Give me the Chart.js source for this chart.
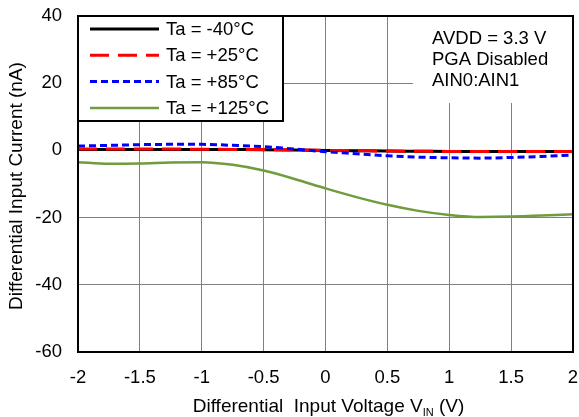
<!DOCTYPE html>
<html>
<head>
<meta charset="utf-8">
<script src="https://cdn.jsdelivr.net/npm/chart.js@4/dist/chart.umd.min.js"></script>
<style>
  html, body { margin: 0; padding: 0; background: #fff; }
  #wrap { position: relative; width: 579px; height: 417px; }
</style>
</head>
<body>
<div id="wrap"><canvas id="chart" width="579" height="417"></canvas></div>
<script>
// values
const voltages = [-2, -1.75, -1.5, -1.25, -1, -0.75, -0.5, -0.25, 0, 0.25, 0.5, 0.75, 1, 1.25, 1.5, 1.75, 2];
const tempLabels = ['Ta = -40°C', 'Ta = +25°C', 'Ta = +85°C', 'Ta = +125°C'];
const currentM40 = [0.3, 0.3, 0.3, 0.3, 0.3, 0.25, 0.2, 0.1, 0, -0.1, -0.2, -0.25, -0.3, -0.3, -0.3, -0.3, -0.3];
const current25 = [0.4, 0.4, 0.4, 0.4, 0.35, 0.3, 0.3, 0.15, 0, -0.1, -0.2, -0.25, -0.3, -0.3, -0.3, -0.3, -0.3];
const current85 = [1.3, 1.5, 1.7, 1.8, 1.8, 1.5, 1.1, 0.4, -0.4, -1.0, -1.6, -2.0, -2.2, -2.3, -2.1, -1.8, -1.4];
const current125 = [-3.5, -4.0, -3.9, -3.6, -3.5, -4.3, -6.0, -8.5, -11.3, -13.9, -16.2, -18.0, -19.2, -19.8, -19.7, -19.4, -19.0];
const notes = ['AVDD = 3.3 V', 'PGA Disabled', 'AIN0:AIN1'];

const FONT = '"Liberation Sans", Arial, sans-serif';

const styles = [
    { color: '#000000', dash: [] },
    { color: '#ff0000', dash: [19, 9] },
    { color: '#0000ff', dash: [7, 4] },
    { color: '#6f9c3d', dash: [] }
];
const series = [currentM40, current25, current85, current125];

const datasets = series.map((values, i) => ({
    label: tempLabels[i],
    data: voltages.map((v, j) => ({ x: v, y: values[j] })),
    borderColor: styles[i].color,
    borderDash: styles[i].dash,
    borderWidth: i === 3 ? 2.5 : 3,
    pointRadius: 0,
    cubicInterpolationMode: 'monotone',
    fill: false,
    order: [3, 2, 1, 4][i]
}));

const decorPlugin = {
    id: 'decor',
    beforeDatasetsDraw(chart) {
        const { ctx, chartArea: a } = chart;
        ctx.save();
        // note box (white, hides grid)
        ctx.fillStyle = '#fff';
        ctx.fillRect(413, a.top + 1, a.right - 413 - 1, 102 - a.top);
        ctx.fillStyle = '#000';
        ctx.font = '18.5px ' + FONT;
        ctx.textBaseline = 'middle';
        ctx.textAlign = 'left';
        notes.forEach((t, i) => ctx.fillText(t, 432, 39 + i * 21));

        // legend box
        const lx = a.left, ly = a.top, lw = 283 - a.left, lh = 121 - a.top;
        ctx.fillStyle = '#fff';
        ctx.fillRect(lx, ly, lw, lh);
        ctx.strokeStyle = '#000';
        ctx.lineWidth = 2;
        ctx.strokeRect(lx, ly, lw, lh);
        tempLabels.forEach((t, i) => {
            const y = 29 + i * 26.3;
            ctx.beginPath();
            ctx.strokeStyle = styles[i].color;
            ctx.lineWidth = i === 3 ? 2.5 : 3;
            ctx.setLineDash(styles[i].dash);
            ctx.moveTo(90, y);
            ctx.lineTo(159, y);
            ctx.stroke();
            ctx.setLineDash([]);
            ctx.fillStyle = '#000';
            ctx.font = '18.5px ' + FONT;
            ctx.fillText(t, 166, y + 1);
        });
        ctx.restore();
    },
    afterDatasetsDraw(chart) {
        const { ctx, chartArea: a } = chart;
        ctx.save();
        ctx.strokeStyle = '#000';
        ctx.lineWidth = 2;
        ctx.strokeRect(a.left, a.top, a.right - a.left, a.bottom - a.top);

        // axis titles
        ctx.fillStyle = '#000';
        ctx.textBaseline = 'middle';
        ctx.textAlign = 'left';
        const parts = ['Differential  Input Voltage V', 'IN', ' (V)'];
        const big = '19px ' + FONT, small = '11px ' + FONT;
        ctx.font = big;
        const w0 = ctx.measureText(parts[0]).width, w2 = ctx.measureText(parts[2]).width;
        ctx.font = small;
        const w1 = ctx.measureText(parts[1]).width;
        let x = (a.left + a.right) / 2 + 3 - (w0 + w1 + w2) / 2;
        const y = 407;
        ctx.font = big;
        ctx.fillText(parts[0], x, y);
        x += w0;
        ctx.font = small;
        ctx.fillText(parts[1], x, y + 6);
        x += w1;
        ctx.font = big;
        ctx.fillText(parts[2], x, y);

        ctx.translate(17, 186);
        ctx.rotate(-Math.PI / 2);
        ctx.textAlign = 'center';
        ctx.font = '19px ' + FONT;
        ctx.fillText('Differential Input Current (nA)', 0, 0);
        ctx.restore();
    }
};

new Chart(document.getElementById('chart'), {
    type: 'line',
    data: { datasets },
    options: {
        responsive: false,
        animation: false,
        layout: { padding: { left: 0, right: 6, top: 16, bottom: 0 } },
        plugins: { legend: { display: false }, tooltip: { enabled: false } },
        scales: {
            x: {
                type: 'linear',
                min: -2,
                max: 2,
                ticks: { stepSize: 0.5, color: '#000', font: { family: FONT, size: 18.5 }, padding: 15, callback: (v) => String(v) },
                grid: { color: '#808080', lineWidth: 1, drawTicks: false },
                border: { color: '#000', width: 2 },
                afterFit: (s) => { s.height = 65; s.paddingLeft = 0; s.paddingRight = 0; }
            },
            y: {
                min: -60,
                max: 40,
                ticks: { stepSize: 20, color: '#000', font: { family: FONT, size: 18.5 }, padding: 16 },
                grid: { color: '#808080', lineWidth: 1, drawTicks: false },
                border: { color: '#000', width: 2 },
                afterFit: (s) => { s.width = 78; s.paddingTop = 0; s.paddingBottom = 0; }
            }
        }
    },
    plugins: [decorPlugin]
});
</script>
</body>
</html>
